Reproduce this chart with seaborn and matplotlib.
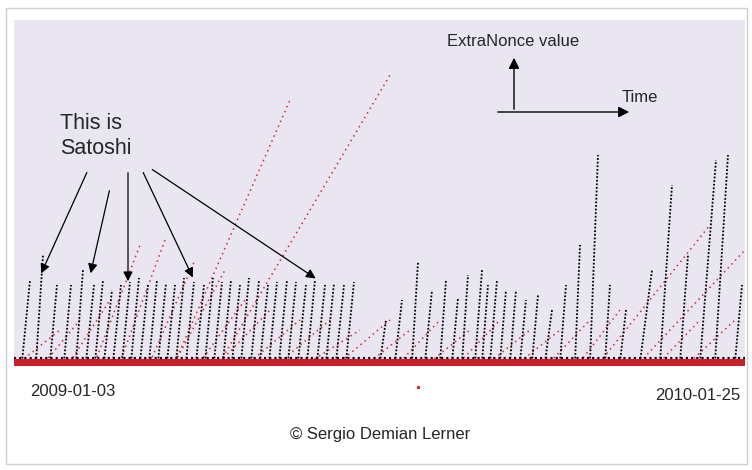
import matplotlib
matplotlib.use("Agg")
import matplotlib.pyplot as plt
import seaborn as sns
import pandas as pd

sns.set_style("white")
plt.rcParams['font.family'] = ['Liberation Sans', 'DejaVu Sans']

# Black streaks (Satoshi ExtraNonce ramps): bottom x, top x, top y (pixel-like units)
blk_x0 = [22,36,50,64,76,86,95,104,113,122,131,140,149,158,167,176,186,196,205,214,223,232,241,251,260,269,279,288,298,307,317,326,336,346,
          380,395,412,425,440,452,462,475,482,490,500,510,520,532,545,560,575,590,605,620,640,660,680,700,715,735]
blk_x1 = [30,43,57,71,83,94,103,112,121,130,139,148,157,166,175,184,194,204,213,222,231,240,249,259,268,277,287,296,306,315,325,334,344,354,
          386,402,418,432,446,458,468,482,488,497,506,516,526,538,552,566,580,598,610,626,652,672,688,716,728,742]
blk_top = [280,255,285,285,270,285,280,290,285,282,278,285,280,283,285,278,282,285,278,282,280,285,278,280,285,282,280,282,285,280,285,283,285,282,
           320,300,262,290,280,298,275,270,285,280,290,290,300,295,310,285,245,155,285,310,270,185,255,160,155,285]

# Red streaks: bottom x, top x, top y
red_x0 = [20,45,70,95,120,150,175,200,220,250,280,310,340,370,400,430,460,490,520,550,580,600,640,660,690,175,220]
red_x1 = [60,80,110,140,165,195,225,245,270,300,330,360,390,410,440,470,500,530,560,590,620,710,745,700,735,290,390]
red_top = [330,320,300,245,240,260,270,300,310,320,320,330,320,330,320,330,320,330,330,320,310,225,250,320,320,100,75]

BASE = 362

fig = plt.figure(figsize=(7.52, 4.70), dpi=100)
ax = fig.add_axes([0, 0, 1, 1])
ax.set_xlim(0, 752); ax.set_ylim(470, 0); ax.axis("off")
fig.patch.set_facecolor("white")
ax.add_patch(plt.Rectangle((14, 20), 731, 346, facecolor="#e9e6f1", edgecolor="none", zorder=0))
ax.add_patch(plt.Rectangle((6, 8), 741, 456, facecolor="none", edgecolor="#cfcfcf", lw=1, zorder=0))

df_r = pd.DataFrame({"x0": red_x0, "x1": red_x1, "top": red_top})
for r in df_r.itertuples():
    ax.plot([r.x0, r.x1], [BASE, r.top], color="#d42a2a", lw=1.1, ls=(0, (1, 2.5)), zorder=2)
df_b = pd.DataFrame({"x0": blk_x0, "x1": blk_x1, "top": blk_top})
for r in df_b.itertuples():
    ax.plot([r.x0, r.x1], [BASE, r.top], color="black", lw=1.3, ls=(0, (1, 1)), zorder=3)

ax.add_patch(plt.Rectangle((14, 359), 731, 7, facecolor="#c8202a", edgecolor="none", zorder=4))
ax.plot([14, 745], [358, 358], color="black", lw=1.5, ls=(0, (1, 1.5)), zorder=5)

ax.text(60, 136, "This is\nSatoshi", fontsize=15.5, ha="left", va="center", linespacing=1.25)
for (sx, sy, tx, ty) in [(88, 170, 40, 276), (110, 188, 90, 276), (128, 170, 128, 284),
                         (142, 170, 194, 280), (150, 168, 318, 280)]:
    ax.annotate("", xy=(tx, ty), xytext=(sx, sy),
                arrowprops=dict(arrowstyle="-|>", color="black", lw=0.9, mutation_scale=14))
ax.annotate("", xy=(514, 55), xytext=(514, 112),
            arrowprops=dict(arrowstyle="-|>", color="black", lw=1, mutation_scale=16))
ax.annotate("", xy=(632, 112), xytext=(495, 112),
            arrowprops=dict(arrowstyle="-|>", color="black", lw=1, mutation_scale=16))
ax.text(447, 42, "ExtraNonce value", fontsize=12, va="center")
ax.text(622, 98, "Time", fontsize=12, va="center")
ax.text(30, 392, "2009-01-03", fontsize=12, va="center")
ax.text(740, 396, "2010-01-25", fontsize=12, va="center", ha="right")
ax.text(380, 435, "© Sergio Demian Lerner", fontsize=12, va="center", ha="center")
ax.plot([418], [387], marker=".", color="#d42a2a", ms=3)

fig.savefig("out.png", dpi=100)
